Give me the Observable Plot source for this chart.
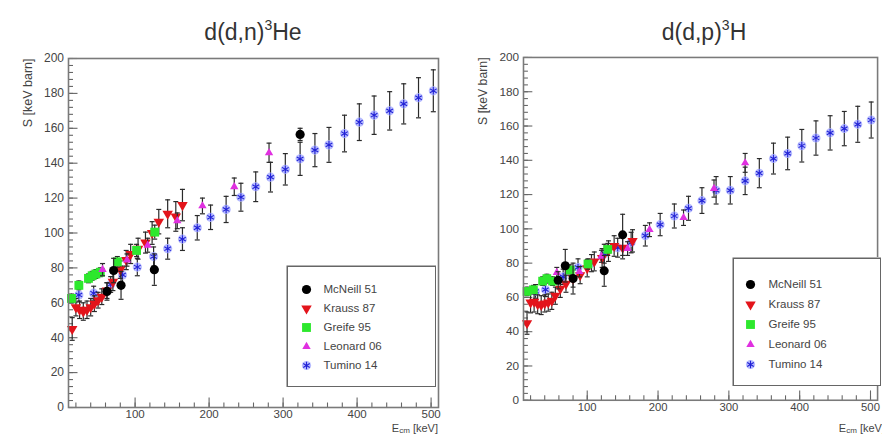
<!DOCTYPE html>
<html><head><meta charset="utf-8">
<script src="https://cdn.jsdelivr.net/npm/d3@7"></script>
<script src="https://cdn.jsdelivr.net/npm/@observablehq/plot@0.6"></script>
<style>
html,body{margin:0;padding:0;background:#fff;overflow:hidden;}
#wrap{position:relative;width:882px;height:435px;overflow:hidden;font-family:"Liberation Sans",Arial,sans-serif;color:#444;}
.panel{position:absolute;top:0;}
.title{position:absolute;top:21px;font-size:23px;line-height:23px;color:#333;transform:translateX(-50%);white-space:nowrap;}
.title .sup{font-size:14px;position:relative;top:-10px;}
.xlab{position:absolute;top:422.5px;font-size:11px;line-height:11px;white-space:nowrap;color:#444;}
.xlab .sub{font-size:8px;position:relative;top:1px;}
.legend{position:absolute;background:#fff;}
</style></head><body>
<div id="wrap">
  <div class="panel" id="left" style="left:0"></div>
  <div class="panel" id="right" style="left:440px"></div>
  <div class="title" style="left:253px">d(d,n)<span class="sup">3</span>He</div>
  <div class="title" style="left:704px">d(d,p)<span class="sup">3</span>H</div>
  <div class="xlab" style="right:444px">E<span class="sub">cm</span> [keV]</div>
  <div class="xlab" style="right:-3px">E<span class="sub">cm</span> [keV]</div>
  <div class="legend" id="legL" style="left:286px;top:265px"></div>
  <div class="legend" id="legR" style="left:732px;top:257px"></div>
</div>
<script>
// ---------- data ----------
const seriesNames = ["McNeill 51", "Krauss 87", "Greife 95", "Leonard 06", "Tumino 14"];
const yMajorTicks = [0, 20, 40, 60, 80, 100, 120, 140, 160, 180, 200];
const xMajorTicks = [100, 200, 300, 400, 500];
const yMinorTicks = d3.range(0, 201, 4);
const xMinorTicks = d3.range(20, 501, 20);

// d(d,n)3He
const dnMcNeillE = [62, 71, 81, 126, 323];
const dnMcNeillS = [66.5, 78.5, 70, 79, 156.5];
const dnMcNeillErr = [5, 7, 8, 9, 3.5];
const dnKraussE = [15, 20, 25, 30, 35, 40, 45, 50, 55, 62, 70, 80, 88, 94, 104, 114, 123, 132, 144, 155, 164];
const dnKraussS = [45, 57.5, 56, 55, 56, 57.5, 59.5, 61.5, 63.5, 67, 72, 79, 84.5, 88, 91, 94.5, 100, 106.5, 111, 109.5, 116];
const dnKraussErr = [6.5, 5, 5, 5, 5, 5, 4.5, 4.5, 4.5, 4.5, 5, 5, 5.5, 5.5, 6, 6, 6.5, 7, 8, 8.5, 9];
const dnGreifeE = [14, 24, 37, 42, 47, 53, 76, 102, 126.5];
const dnGreifeS = [62.5, 70, 74, 75.5, 76.5, 77.5, 83.5, 90, 100.5];
const dnGreifeErr = [2.5, 2.5, 2.5, 2.5, 2.5, 2.5, 3, 3.5, 4];
const dnLeonardE = [56, 89, 117, 157, 191, 234, 281];
const dnLeonardS = [79, 84.5, 93, 107, 115.5, 126.5, 146];
const dnLeonardErr = [3.5, 3.5, 4, 4.5, 4.5, 5, 5.5];
const dnTuminoE = [24, 44, 67, 83, 103, 125, 144, 164, 184, 202, 223, 243, 263, 283, 303, 323, 343, 362, 383, 403, 423, 444, 463, 483, 503];
const dnTuminoS = [64.5, 65.5, 70.5, 76, 80.5, 86.5, 91, 96.5, 103, 109, 113.5, 120.5, 126.5, 132, 136.5, 142.5, 147.5, 150.5, 157, 163.5, 167.5, 170, 174, 177.5, 181.5];
const dnTuminoErr = [4, 4, 4.5, 5, 5, 5.5, 6, 6.5, 7, 7, 7.5, 8, 8.5, 8.5, 9, 9.5, 9.5, 10, 10.5, 10.5, 11, 11, 11.5, 11.5, 12];

// d(d,p)3H
const dpMcNeillE = [59, 69, 80, 124, 150];
const dpMcNeillS = [70, 78.5, 71, 75.5, 96.5];
const dpMcNeillErr = [5, 9.5, 9, 9, 12];
const dpKraussE = [15, 20, 25, 30, 35, 40, 45, 50, 55, 62, 70, 80, 90, 100, 110, 121, 130, 138, 150, 164];
const dpKraussS = [45, 57, 57.5, 56, 55.5, 56.5, 57, 58, 61, 65, 68, 71, 73, 77, 81, 83, 87, 90, 89, 93];
const dpKraussErr = [6.5, 6, 6, 5.5, 5.5, 5, 5, 5, 5, 5, 5, 5, 5, 5, 5.5, 5.5, 6, 6, 6.5, 6.5];
const dpGreifeE = [15, 24, 37, 43, 51, 76, 101, 129];
const dpGreifeS = [63.5, 64.5, 69.5, 71, 69.5, 76, 79.5, 88];
const dpGreifeErr = [2.5, 2.5, 2.5, 2.5, 2.5, 3, 3, 3.5];
const dpLeonardE = [57, 89, 120, 157, 188, 236, 279, 323];
const dpLeonardS = [74.5, 75, 84, 88.5, 99.5, 106.5, 123.5, 138.5];
const dpLeonardErr = [3, 3, 3.5, 4, 4, 4.5, 5, 5.5];
const dpTuminoE = [27, 41, 66, 87, 106, 124, 143, 162, 182, 203, 223, 243, 262, 282, 302, 323, 343, 363, 383, 403, 423, 443, 463, 482, 501];
const dpTuminoS = [63.5, 64.5, 72, 77.5, 80, 85.5, 89, 92, 96, 102.5, 107.5, 112, 116.5, 122.5, 122.5, 128, 132.5, 141, 144, 148.5, 153, 156, 158.5, 161, 163.5];
const dpTuminoErr = [4, 4, 4.5, 5, 5, 5.5, 5.5, 6, 6, 6.5, 7, 7, 7.5, 8, 8, 8, 8.5, 9, 9.5, 9.5, 10, 10, 10, 10.5, 10.5];

// ---------- helpers ----------
const rows = (E, S, Err) => E.map((e, i) => ({E: e, S: S[i], err: Err[i]}));
const tickRight = len => ({draw(ctx) { ctx.moveTo(0, 0); ctx.lineTo(len, 0); }});
const tickUp = len => ({draw(ctx) { ctx.moveTo(0, 0); ctx.lineTo(0, -len); }});
const capSym = {draw(ctx) { ctx.moveTo(-2.5, 0); ctx.lineTo(2.5, 0); }};
const triDown = {draw(ctx, size) {
  const s3 = Math.sqrt(3), y = -Math.sqrt(size / (s3 * 3));
  ctx.moveTo(0, -2 * y); ctx.lineTo(-s3 * y, y); ctx.lineTo(s3 * y, y); ctx.closePath();
}};
const FONT = '"Liberation Sans", Arial, sans-serif';
const errColor = "#2a2a2a";

function markerMarks(name, data, extra) {
  const o = Object.assign({}, extra);
  switch (name) {
    case "McNeill 51": return [Plot.dot(data, {...o, symbol: "circle", fill: "#000", r: 4.6})];
    case "Krauss 87": return [Plot.dot(data, {...o, symbol: triDown, fill: "#e3141b", r: 3.9})];
    case "Greife 95": return [Plot.dot(data, {...o, symbol: "square", fill: "#2de82d", r: 5})];
    case "Leonard 06": return [Plot.dot(data, {...o, symbol: "triangle", fill: "#e030e0", r: 3.1})];
    case "Tumino 14": return [
      Plot.dot(data, {...o, symbol: "circle", fill: "#aeb4ff", fillOpacity: 0.9, r: 4.6}),
      Plot.dot(data, {...o, symbol: "asterisk", stroke: "#2222d6", strokeWidth: 1.1, r: 3.6})
    ];
  }
}

function errMarks(data) {
  return [
    Plot.ruleX(data, {x: "E", y1: d => d.S - d.err, y2: d => d.S + d.err, stroke: errColor, strokeWidth: 1.2}),
    Plot.dot(data, {x: "E", y: d => d.S + d.err, symbol: capSym, stroke: errColor, fill: "none", strokeWidth: 1.2}),
    Plot.dot(data, {x: "E", y: d => d.S - d.err, symbol: capSym, stroke: errColor, fill: "none", strokeWidth: 1.2})
  ];
}

function panel(series, {width, marginLeft, marginRight}) {
  const order = ["Tumino 14", "Krauss 87", "Greife 95", "Leonard 06", "McNeill 51"];
  const dataMarks = order.flatMap(n => [...errMarks(series[n]), ...markerMarks(n, series[n], {x: "E", y: "S"})]);
  return Plot.plot({
    width, height: 435, marginLeft, marginRight, marginTop: 58, marginBottom: 28,
    style: {fontFamily: FONT, fontSize: "12px", color: "#444", background: "transparent", overflow: "visible"},
    x: {domain: [10, 510]},
    y: {domain: [0, 200]},
    marks: [
      Plot.axisY({ticks: yMajorTicks, tickSize: 0, tickPadding: 4.5, label: null, fontSize: 12}),
      Plot.axisX({ticks: xMajorTicks, tickSize: 0, tickPadding: 2.5, label: null, fontSize: 11.5}),
      Plot.dot(yMinorTicks, {y: d => d, frameAnchor: "left", symbol: tickRight(4.5), stroke: "#666", fill: "none", strokeWidth: 1.1}),
      Plot.dot(yMajorTicks, {y: d => d, frameAnchor: "left", symbol: tickRight(9), stroke: "#666", fill: "none", strokeWidth: 1.1}),
      Plot.dot(xMinorTicks, {x: d => d, frameAnchor: "bottom", symbol: tickUp(5), stroke: "#666", fill: "none", strokeWidth: 1.1}),
      Plot.dot(xMajorTicks, {x: d => d, frameAnchor: "bottom", symbol: tickUp(10), stroke: "#666", fill: "none", strokeWidth: 1.1}),
      ...dataMarks,
      Plot.frame({stroke: "#7a7a7a", strokeWidth: 1.6}),
      Plot.text(["S [keV barn]"], {text: d => d, frameAnchor: "top-left", dx: -41, rotate: -90, textAnchor: "end", lineAnchor: "middle", fontSize: 12.5, fill: "#444"})
    ]
  });
}

function legend(width, height, yRange, dxMarker, dxText) {
  const marks = [Plot.frame({stroke: "#666", strokeWidth: 1.5, inset: 0.75})];
  for (const n of seriesNames) {
    marks.push(...markerMarks(n, [n], {y: d => d, frameAnchor: "left", dx: dxMarker}));
  }
  marks.push(Plot.text(seriesNames, {y: d => d, text: d => d, frameAnchor: "left", dx: dxText, textAnchor: "start", fontSize: 11.5, fill: "#444"}));
  return Plot.plot({
    width, height, marginTop: 0, marginBottom: 0, marginLeft: 0, marginRight: 0,
    style: {fontFamily: FONT, fontSize: "11.5px", color: "#444", background: "#fff"},
    x: {axis: null},
    y: {type: "point", domain: seriesNames, range: yRange, axis: null},
    marks
  });
}

const dnSeries = {
  "McNeill 51": rows(dnMcNeillE, dnMcNeillS, dnMcNeillErr),
  "Krauss 87": rows(dnKraussE, dnKraussS, dnKraussErr),
  "Greife 95": rows(dnGreifeE, dnGreifeS, dnGreifeErr),
  "Leonard 06": rows(dnLeonardE, dnLeonardS, dnLeonardErr),
  "Tumino 14": rows(dnTuminoE, dnTuminoS, dnTuminoErr)
};
const dpSeries = {
  "McNeill 51": rows(dpMcNeillE, dpMcNeillS, dpMcNeillErr),
  "Krauss 87": rows(dpKraussE, dpKraussS, dpKraussErr),
  "Greife 95": rows(dpGreifeE, dpGreifeS, dpGreifeErr),
  "Leonard 06": rows(dpLeonardE, dpLeonardS, dpLeonardErr),
  "Tumino 14": rows(dpTuminoE, dpTuminoS, dpTuminoErr)
};

document.getElementById("left").append(panel(dnSeries, {width: 440, marginLeft: 68, marginRight: 2}));
document.getElementById("right").append(panel(dpSeries, {width: 450, marginLeft: 84.5, marginRight: 5}));
document.getElementById("legL").append(legend(150, 122, [13, 110], 20, 37));
document.getElementById("legR").append(legend(149, 129, [16, 117], 18, 36));
</script>
</body></html>
